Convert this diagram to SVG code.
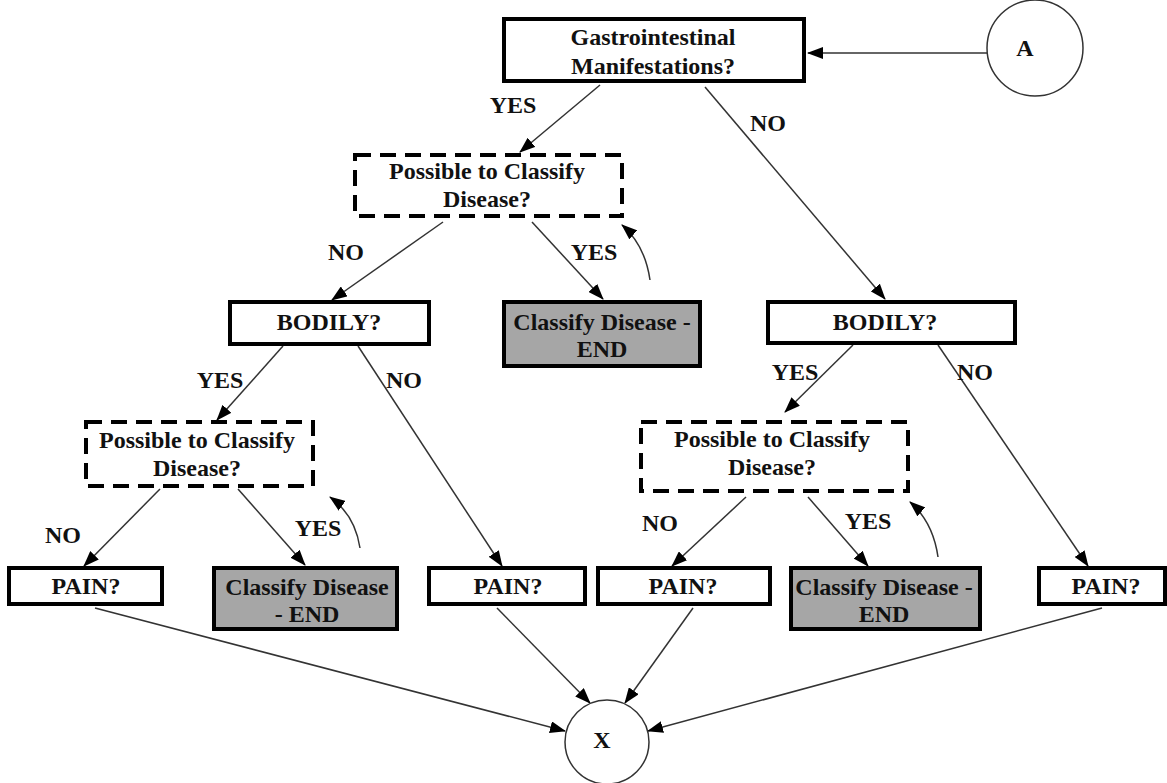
<svg xmlns="http://www.w3.org/2000/svg" width="1167" height="783" viewBox="0 0 1167 783">
  <style>
    .box { fill: #ffffff; stroke: #000000; stroke-width: 4; }
    .dash { fill: #ffffff; stroke: #000000; stroke-width: 4; stroke-dasharray: 16 9; }
    .end { fill: #a6a6a6; stroke: #000000; stroke-width: 4; }
    .circ { fill: #ffffff; stroke: #333333; stroke-width: 1.5; }
    .t { font-family: 'Liberation Serif', 'Times New Roman', serif; font-weight: bold; font-size: 24px; fill: #111111; text-anchor: middle; }
    .edge { fill: none; stroke: #333333; stroke-width: 1.5; marker-end: url(#arrow); }
  </style>
  <defs>
    <marker id="arrow" viewBox="0 0 16 12" refX="15" refY="6" markerWidth="16" markerHeight="12" markerUnits="userSpaceOnUse" orient="auto">
      <path d="M0,0 L16,6 L0,12 z" fill="#000000"/>
    </marker>
  </defs>
  <rect width="1167" height="783" fill="#ffffff"/>

  <!-- flow connectors -->
  <g id="connectors">
    <line class="edge" x1="987" y1="53" x2="808" y2="53"/>
    <line class="edge" x1="600" y1="85" x2="520" y2="152"/>
    <line class="edge" x1="705" y1="87" x2="885" y2="299"/>
    <line class="edge" x1="443" y1="222" x2="332" y2="300"/>
    <line class="edge" x1="532" y1="222" x2="603" y2="299"/>
    <path class="edge" d="M650,280 Q645,245 622,225"/>
    <line class="edge" x1="283" y1="346" x2="217" y2="420"/>
    <line class="edge" x1="358" y1="346" x2="502" y2="566"/>
    <line class="edge" x1="853" y1="345" x2="785" y2="412"/>
    <line class="edge" x1="938" y1="345" x2="1088" y2="566"/>
    <line class="edge" x1="160" y1="489" x2="84" y2="566"/>
    <line class="edge" x1="238" y1="489" x2="305" y2="565"/>
    <path class="edge" d="M360,548 Q355,515 330,497"/>
    <line class="edge" x1="746" y1="497" x2="672" y2="566"/>
    <line class="edge" x1="808" y1="497" x2="868" y2="566"/>
    <path class="edge" d="M938,557 Q933,522 910,502"/>
    <line class="edge" x1="95" y1="608" x2="565" y2="731"/>
    <line class="edge" x1="497" y1="608" x2="590" y2="703"/>
    <line class="edge" x1="693" y1="608" x2="625" y2="703"/>
    <line class="edge" x1="1102" y1="608" x2="648" y2="731"/>
  </g>

  <g id="edge-labels">
    <text class="t" x="513" y="113">YES</text>
    <text class="t" x="768" y="131">NO</text>
    <text class="t" x="346" y="260">NO</text>
    <text class="t" x="594" y="260">YES</text>
    <text class="t" x="220" y="388">YES</text>
    <text class="t" x="404" y="388">NO</text>
    <text class="t" x="795" y="380">YES</text>
    <text class="t" x="975" y="380">NO</text>
    <text class="t" x="63" y="543">NO</text>
    <text class="t" x="318" y="536">YES</text>
    <text class="t" x="660" y="531">NO</text>
    <text class="t" x="868" y="529">YES</text>
  </g>

  <g id="node-a">
    <circle class="circ" cx="1035" cy="48" r="48"/>
    <text class="t" x="1025" y="56">A</text>
  </g>

  <g id="node-gi">
    <rect class="box" x="504" y="19" width="300" height="62"/>
    <text class="t" x="653" y="45">Gastrointestinal</text>
    <text class="t" x="653" y="74">Manifestations?</text>
  </g>

  <g id="node-classify-1">
    <rect class="dash" x="355" y="155" width="267" height="61"/>
    <text class="t" x="487" y="179">Possible to Classify</text>
    <text class="t" x="487" y="207">Disease?</text>
  </g>

  <g id="node-bodily-left">
    <rect class="box" x="230" y="302" width="199" height="42"/>
    <text class="t" x="329" y="330">BODILY?</text>
  </g>

  <g id="node-end-1">
    <rect class="end" x="504" y="302" width="196" height="64"/>
    <text class="t" x="602" y="330">Classify Disease -</text>
    <text class="t" x="602" y="357">END</text>
  </g>

  <g id="node-bodily-right">
    <rect class="box" x="768" y="302" width="247" height="41"/>
    <text class="t" x="885" y="330">BODILY?</text>
  </g>

  <g id="node-classify-2">
    <rect class="dash" x="86" y="422" width="227" height="64"/>
    <text class="t" x="197" y="448">Possible to Classify</text>
    <text class="t" x="197" y="476">Disease?</text>
  </g>

  <g id="node-classify-3">
    <rect class="dash" x="641" y="422" width="267" height="69"/>
    <text class="t" x="772" y="447">Possible to Classify</text>
    <text class="t" x="772" y="475">Disease?</text>
  </g>

  <g id="node-pain-1">
    <rect class="box" x="9" y="568" width="153" height="36"/>
    <text class="t" x="86" y="594">PAIN?</text>
  </g>

  <g id="node-end-2">
    <rect class="end" x="214" y="568" width="183" height="61"/>
    <text class="t" x="307" y="595">Classify Disease</text>
    <text class="t" x="307" y="622">- END</text>
  </g>

  <g id="node-pain-2">
    <rect class="box" x="429" y="568" width="156" height="36"/>
    <text class="t" x="508" y="594">PAIN?</text>
  </g>

  <g id="node-pain-3">
    <rect class="box" x="598" y="568" width="172" height="36"/>
    <text class="t" x="683" y="594">PAIN?</text>
  </g>

  <g id="node-end-3">
    <rect class="end" x="791" y="568" width="189" height="61"/>
    <text class="t" x="884" y="595">Classify Disease -</text>
    <text class="t" x="884" y="622">END</text>
  </g>

  <g id="node-pain-4">
    <rect class="box" x="1039" y="568" width="126" height="36"/>
    <text class="t" x="1106" y="594">PAIN?</text>
  </g>

  <g id="node-x">
    <circle class="circ" cx="607" cy="742" r="42"/>
    <text class="t" x="602" y="748">X</text>
  </g>
</svg>
